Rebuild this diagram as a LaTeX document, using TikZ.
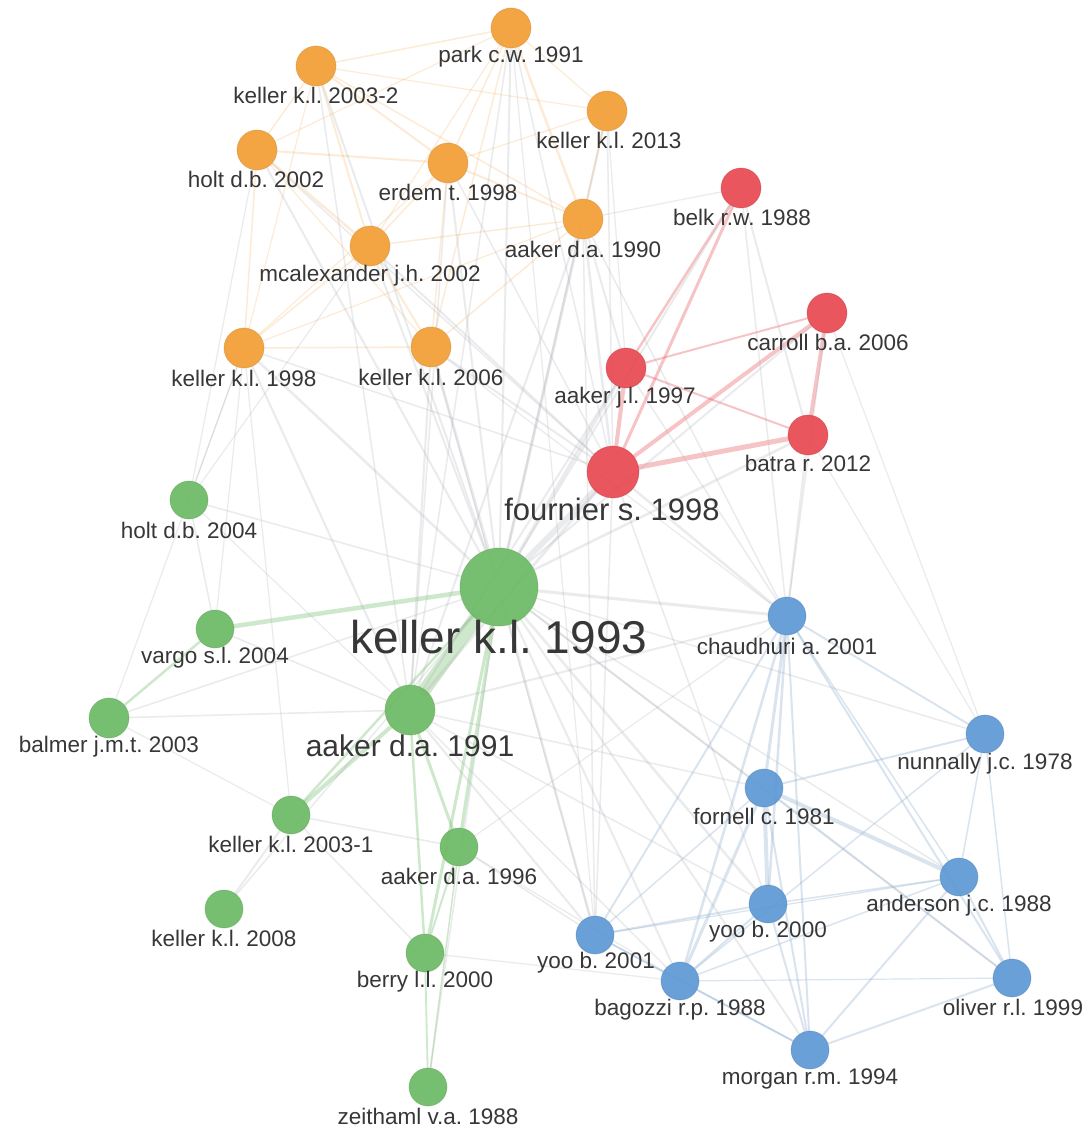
\documentclass[tikz,border=0pt]{standalone}
\usepackage{fontspec}
\setmainfont{Liberation Sans}
\frenchspacing
\pgfdeclarelayer{bg}
\pgfsetlayers{bg,main}
\definecolor{cOr}{RGB}{244,158,52}
\definecolor{cRd}{RGB}{232,72,80}
\definecolor{cGr}{RGB}{108,186,100}
\definecolor{cBl}{RGB}{92,152,212}
\definecolor{txt}{RGB}{55,55,55}
\definecolor{egray}{RGB}{170,172,182}
\tikzset{
  nd/.style={circle, inner sep=0pt, minimum size=#1, fill opacity=0.92, line width=0.8pt, draw opacity=0.35},
  ndO/.style={nd=#1, fill=cOr, draw=cOr!80!black},
  ndR/.style={nd=#1, fill=cRd, draw=cRd!80!black},
  ndG/.style={nd=#1, fill=cGr, draw=cGr!80!black},
  ndB/.style={nd=#1, fill=cBl, draw=cBl!80!black},
  lbl/.style={font=\fontsize{22.5}{24}\selectfont, text=txt, inner sep=0pt},
  eg/.style={draw=egray, line width=#1, opacity=0.24, line cap=round},
  eo/.style={draw=cOr, line width=#1, opacity=0.2, line cap=round},
  er/.style={draw=cRd, line width=#1, opacity=0.32, line cap=round},
  egr/.style={draw=cGr, line width=#1, opacity=0.33, line cap=round},
  eb/.style={draw=cBl!60!egray, line width=#1, opacity=0.28, line cap=round},
}
\begin{document}
\begin{tikzpicture}[x=1pt, y=-1pt]
\useasboundingbox (0,0) rectangle (1091,1129);
% ---------- nodes: orange ----------
\node[ndO=40] (park) at (511,28) {};
\node[ndO=40] (k032) at (316,66) {};
\node[ndO=40] (k2013) at (607,111) {};
\node[ndO=40] (holt02) at (257,150) {};
\node[ndO=40] (erdem) at (448,163) {};
\node[ndO=40] (aaker90) at (583,219) {};
\node[ndO=40] (mcalex) at (370,246) {};
\node[ndO=40] (k98) at (244,348) {};
\node[ndO=40] (k06) at (431,347) {};
% ---------- red ----------
\node[ndR=40] (belk) at (741,188) {};
\node[ndR=40] (carroll) at (827,313) {};
\node[ndR=40] (aakerjl) at (626,368) {};
\node[ndR=40] (batra) at (808,435) {};
\node[ndR=52] (fournier) at (613,472) {};
% ---------- green ----------
\node[ndG=78] (k93) at (499,587) {};
\node[ndG=38] (holt04) at (189,500) {};
\node[ndG=38] (vargo) at (215,629) {};
\node[ndG=40] (balmer) at (109,718) {};
\node[ndG=50] (a91) at (410,710) {};
\node[ndG=38] (k031) at (291,815) {};
\node[ndG=38] (a96) at (459,847) {};
\node[ndG=38] (k08) at (224,909) {};
\node[ndG=38] (berry) at (425,953) {};
\node[ndG=38] (zeith) at (428,1087) {};
% ---------- blue ----------
\node[ndB=38] (chaud) at (787,616) {};
\node[ndB=38] (nunn) at (985,734) {};
\node[ndB=38] (fornell) at (764,788) {};
\node[ndB=38] (anders) at (959,877) {};
\node[ndB=38] (yoo00) at (768,904) {};
\node[ndB=38] (yoo01) at (595,935) {};
\node[ndB=38] (bagoz) at (680,981) {};
\node[ndB=38] (oliver) at (1012,978) {};
\node[ndB=38] (morgan) at (810,1050) {};
% ---------- labels ----------
\node[lbl] (park-t) at (511,57) {park c.w. 1991};
\node[lbl] (k032-t) at (316,95) {keller k.l. 2003-2};
\node[lbl] (k2013-t) at (609,140) {keller k.l. 2013};
\node[lbl] (holt02-t) at (256,179) {holt d.b. 2002};
\node[lbl] (erdem-t) at (448,192) {erdem t. 1998};
\node[lbl] (aaker90-t) at (583,249) {aaker d.a. 1990};
\node[lbl] (mcalex-t) at (370,276) {mcalexander j.h. 2002};
\node[lbl] (k98-t) at (244,378) {keller k.l. 1998};
\node[lbl] (k06-t) at (431,377) {keller k.l. 2006};
\node[lbl] (belk-t) at (742,217) {belk r.w. 1988};
\node[lbl] (carroll-t) at (828,342) {carroll b.a. 2006};
\node[lbl] (aakerjl-t) at (625,398) {aaker j.l. 1997};
\node[lbl] (batra-t) at (808,463) {batra r. 2012};
\node[lbl, font=\fontsize{31}{33}\selectfont] (fournier-t) at (612,509) {fournier s. 1998};
\node[lbl, font=\fontsize{46}{48}\selectfont] (k93-t) at (499,637) {keller k.l. 1993};
\node[lbl] (holt04-t) at (189,530) {holt d.b. 2004};
\node[lbl] (vargo-t) at (215,658) {vargo s.l. 2004};
\node[lbl] (balmer-t) at (109,747) {balmer j.m.t. 2003};
\node[lbl, font=\fontsize{30}{32}\selectfont] (a91-t) at (410,746) {aaker d.a. 1991};
\node[lbl] (k031-t) at (291,844) {keller k.l. 2003-1};
\node[lbl] (a96-t) at (459,876) {aaker d.a. 1996};
\node[lbl] (k08-t) at (224,938) {keller k.l. 2008};
\node[lbl] (berry-t) at (425,982) {berry l.l. 2000};
\node[lbl] (zeith-t) at (428,1116) {zeithaml v.a. 1988};
\node[lbl] (chaud-t) at (787,646) {chaudhuri a. 2001};
\node[lbl] (nunn-t) at (985,764) {nunnally j.c. 1978};
\node[lbl] (fornell-t) at (764,816) {fornell c. 1981};
\node[lbl] (anders-t) at (959,906) {anderson j.c. 1988};
\node[lbl] (yoo00-t) at (768,932) {yoo b. 2000};
\node[lbl] (yoo01-t) at (596,963) {yoo b. 2001};
\node[lbl] (bagoz-t) at (680,1010) {bagozzi r.p. 1988};
\node[lbl] (oliver-t) at (1013,1007) {oliver r.l. 1999};
\node[lbl] (morgan-t) at (810,1079) {morgan r.m. 1994};
% ---------- edges ----------
\begin{pgfonlayer}{bg}
\fill[white] (0,0) rectangle (1091,1129);
% orange cluster
\foreach \a/\b/\w in {park/k032/1.5, park/erdem/1.5, park/aaker90/2.5, park/k2013/1.2, park/k06/1.5, park/mcalex/1.2,
  park/holt02/1.2, k032/holt02/1.5, k032/erdem/2, k032/mcalex/2, k032/k98/1.2, k032/aaker90/1.5,
  holt02/mcalex/2.5, holt02/erdem/2, holt02/k98/1.5, holt02/k06/1.2, erdem/aaker90/2, erdem/mcalex/1.5,
  erdem/k06/1.5, erdem/k98/1.2, mcalex/k06/2, mcalex/k98/1.5, mcalex/aaker90/1.5, k2013/aaker90/2,
  k2013/erdem/1.2, k98/k06/1.5, k06/aaker90/1.5, k98/aaker90/1.2, k032/k2013/1.2}
  \draw[eo=\w] (\a) -- (\b);
% red cluster
\foreach \a/\b/\w in {fournier/batra/5, fournier/carroll/4, fournier/belk/3, fournier/aakerjl/4,
  carroll/batra/4, aakerjl/belk/2.5, aakerjl/carroll/2, aakerjl/batra/2}
  \draw[er=\w] (\a) -- (\b);
% green cluster
\draw[egr=13] (k93) -- (a91);
\foreach \a/\b/\w in {k93/vargo/4.5, k93/a96/3.5, k93/berry/3, a91/a96/3, a91/berry/2.5, a91/k031/4,
  k93/k031/2.5, vargo/balmer/2.5, berry/zeith/1.8, a96/zeith/1.5, a96/berry/2}
  \draw[egr=\w] (\a) -- (\b);
% blue cluster
\foreach \a/\b/\w in {fornell/anders/4, fornell/yoo00/4, chaud/fornell/3, chaud/yoo00/2.5, chaud/morgan/2,
  chaud/bagoz/2.5, chaud/yoo01/2, chaud/oliver/2, chaud/nunn/2, chaud/anders/1.5, fornell/bagoz/3,
  fornell/nunn/2, fornell/oliver/2, fornell/morgan/2, yoo00/bagoz/2, yoo00/morgan/2, yoo00/yoo01/2,
  yoo00/anders/1.5, anders/bagoz/1.5, anders/morgan/2, anders/oliver/2, nunn/oliver/1.5, nunn/anders/1.5,
  oliver/morgan/2, bagoz/morgan/2, yoo01/morgan/1.5, yoo01/bagoz/1.5, nunn/bagoz/1.5, oliver/bagoz/1.2,
  yoo01/anders/1.2, yoo01/fornell/1.5}
  \draw[eb=\w] (\a) -- (\b);
% gray cross-cluster
\foreach \a/\b/\w in {k93/fournier/6, belk/batra/2, k93/aaker90/3, k93/park/2, k93/k2013/2, k93/k98/2.5,
  k93/k06/3, k93/aakerjl/3, k93/chaud/3, k93/yoo01/2.5, k93/yoo00/2.5, k93/fornell/2, k93/nunn/1.5,
  k93/anders/1.5, k93/bagoz/2, k93/morgan/2, k93/oliver/1.5, k93/holt04/1.5, k93/balmer/1.5, k93/k08/1.5,
  k93/zeith/1.5, k93/belk/2, k93/carroll/2, k93/batra/2.5, k93/erdem/2, k93/mcalex/2, k93/k032/2,
  k93/holt02/2, a91/aaker90/2, a91/k98/2, a91/k06/2, a91/park/1.5, a91/erdem/1.5, a91/k032/1.5,
  a91/fournier/3, a91/aakerjl/2, a91/yoo01/2, a91/bagoz/1.5, a91/chaud/2, a91/yoo00/1.5, a91/fornell/1.5,
  a91/holt04/1.2, a91/balmer/1.5, a91/vargo/1.5, k031/k08/2, k031/berry/1.5, vargo/holt04/1.5,
  holt04/k98/1.2, vargo/k98/1.2, balmer/k98/1.2, fournier/chaud/2.5, fournier/k06/2, fournier/aaker90/2.5,
  fournier/holt02/1.5, fournier/mcalex/2, fournier/park/1.5, fournier/k2013/1.5, fournier/erdem/1.5,
  fournier/yoo00/1.5, fournier/yoo01/1.5, fournier/k98/1.5, belk/chaud/1.5, batra/chaud/2, carroll/chaud/1.5,
  aakerjl/chaud/1.5, aaker90/chaud/1.5, aaker90/aakerjl/2, belk/aaker90/1.2, k2013/aakerjl/1.2,
  park/yoo01/1.2, k06/yoo01/1.2, aaker90/yoo01/1.5, a96/yoo01/1.5, a96/bagoz/1.2, berry/bagoz/1.2,
  a96/chaud/1.2, k031/a96/1.5, balmer/k031/1.2, batra/nunn/1.2, carroll/nunn/1.2, k06/chaud/1.2,
  mcalex/holt04/1.2, k98/k031/1.2, holt02/holt04/1.2}
  \draw[eg=\w] (\a) -- (\b);
\end{pgfonlayer}
\end{tikzpicture}
\end{document}
